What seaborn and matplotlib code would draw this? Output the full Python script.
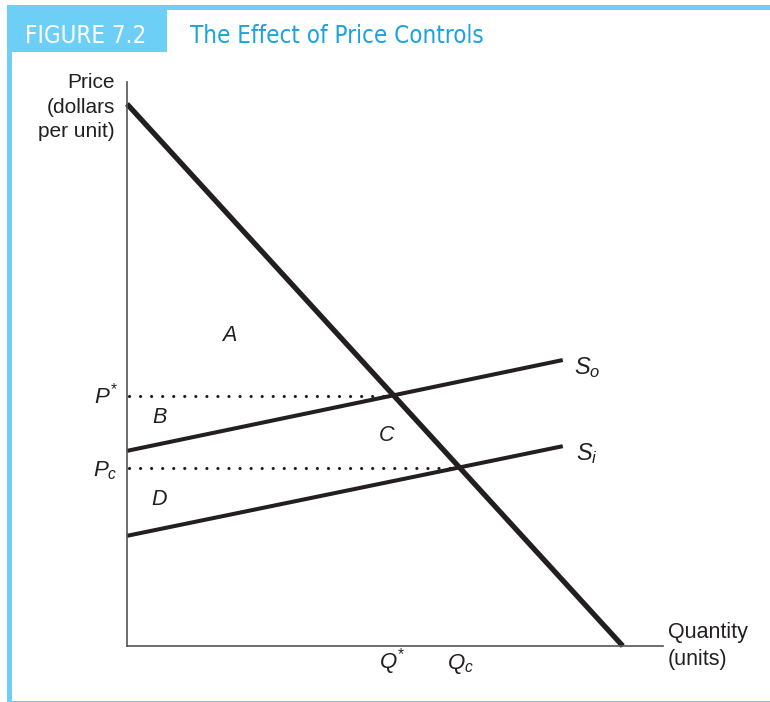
import matplotlib
matplotlib.use("Agg")
import matplotlib.pyplot as plt
import seaborn as sns
import pandas as pd
from matplotlib.patches import Rectangle
from matplotlib import font_manager
from matplotlib.font_manager import FontProperties

# ---- data (in arbitrary quantity / price units) ----
demand_q = [0.0, 9.25]
demand_p = [9.25, 0.0]
so_q = [0.0, 8.13]
so_p = [3.33, 4.88]
si_q = [0.0, 8.13]
si_p = [1.88, 3.41]
p_star, p_c = 4.27, 3.03
q_star, q_c = 4.95, 6.22
area_labels = ["A", "B", "C", "D"]
area_q = [1.9, 0.6, 4.85, 0.6]
area_p = [5.3, 3.9, 3.6, 2.5]
x_ticks = [q_star, q_c]
x_tick_labels = [r"$Q^{*}$", r"$Q_c$"]
y_ticks = [p_star, p_c]
y_tick_labels = [r"$P^{*}$", r"$P_c$"]

sns.set_style("white")
plt.rcParams["font.family"] = ["Liberation Sans", "DejaVu Sans"]
plt.rcParams["mathtext.fontset"] = "custom"
plt.rcParams["mathtext.it"] = "Liberation Sans:italic"
plt.rcParams["mathtext.rm"] = "Liberation Sans"
plt.rcParams["mathtext.default"] = "it"

W, H = 770, 702
fig = plt.figure(figsize=(W / 100, H / 100), dpi=100)
fig.patch.set_facecolor("white")

def fx(px):
    return px / W

def fy(py):
    return 1 - py / H

frame = "#6dcff6"
ink = "#231f20"
# top band, left band, bottom thin line
fig.add_artist(Rectangle((fx(7), fy(10)), fx(770 - 7), 5 / H, transform=fig.transFigure,
                         color=frame, lw=0))
fig.add_artist(Rectangle((fx(7), fy(701)), 5 / W, (701 - 5) / H, transform=fig.transFigure,
                         color=frame, lw=0))
fig.add_artist(Rectangle((fx(7), fy(702)), fx(770 - 7), 1.5 / H, transform=fig.transFigure,
                         color=frame, lw=0))
# header box
fig.add_artist(Rectangle((fx(12), fy(52)), fx(167 - 12), (52 - 10) / H, transform=fig.transFigure,
                         color=frame, lw=0))

# look for a condensed sans face for the header
cond = None
for f in font_manager.fontManager.ttflist:
    nm = f.name.lower()
    st = str(f.stretch).lower()
    if f.style == "normal" and f.weight in (400, "normal", "regular") and \
            ("condensed" in nm or "narrow" in nm or st in ("condensed", "semi-condensed")) \
            and "bold" not in f.fname.lower() and "oblique" not in f.fname.lower():
        cond = f.fname
        break
if cond:
    hprop = FontProperties(fname=cond, size=17.3)
else:
    hprop = FontProperties(family=["Liberation Sans", "DejaVu Sans"], size=17)

fig.text(fx(86), fy(36), "FIGURE 7.2", color="white", ha="center", va="center",
         fontproperties=hprop)
fig.text(fx(190), fy(36), "The Effect of Price Controls", color="#1ba3e1",
         ha="left", va="center", fontproperties=hprop)

# axes
x0, x1 = 127, 663
y0, y1 = 646, 82
ax = fig.add_axes([fx(x0), fy(y0), (x1 - x0) / W, (y0 - y1) / H])
ax.set_facecolor("none")
xmax = (x1 - x0) / 53.6
ymax = (y0 - y1) / 58.6
ax.set_xlim(0, xmax)
ax.set_ylim(0, ymax)

df_d = pd.DataFrame({"q": demand_q, "p": demand_p})
df_so = pd.DataFrame({"q": so_q, "p": so_p})
df_si = pd.DataFrame({"q": si_q, "p": si_p})

sns.lineplot(data=df_d, x="q", y="p", ax=ax, color=ink, lw=3.8, estimator=None,
             sort=False, solid_capstyle="butt", clip_on=False)
sns.lineplot(data=df_so, x="q", y="p", ax=ax, color=ink, lw=2.9, estimator=None,
             sort=False, solid_capstyle="butt", clip_on=False)
sns.lineplot(data=df_si, x="q", y="p", ax=ax, color=ink, lw=2.9, estimator=None,
             sort=False, solid_capstyle="butt", clip_on=False)

# dotted price lines
dot = dict(color=ink, lw=2.3, linestyle=(0, (0.01, 3.45)), dash_capstyle="round")
ax.plot([0.03, q_star - 0.1], [p_star, p_star], **dot)
ax.plot([0.03, q_c - 0.1], [p_c, p_c], **dot)

for side in ["top", "right"]:
    ax.spines[side].set_visible(False)
for side in ["left", "bottom"]:
    ax.spines[side].set_color("#555555")
    ax.spines[side].set_linewidth(1.2)

ax.set_xticks(x_ticks)
ax.set_xticklabels([])
ax.set_yticks(y_ticks)
ax.set_yticklabels([])
ax.tick_params(axis="x", direction="in", length=5, width=1, color="#555555")
ax.tick_params(axis="y", length=0)
ax.set_xlabel("")
ax.set_ylabel("")

# tick labels aligned on a common baseline
xt = ax.get_xaxis_transform()
for q, lab in zip(x_ticks, x_tick_labels):
    ax.text(q, -0.04, lab, transform=xt, fontsize=16, ha="center", va="baseline", color=ink)
for p, lab in zip(y_ticks, y_tick_labels):
    ax.text(-0.17, p - 0.13, lab, fontsize=16, ha="right", va="baseline", color=ink)

for lab, q, p in zip(area_labels, area_q, area_p):
    ax.text(q, p, lab, fontsize=15.5, style="italic", ha="center", va="center", color=ink)

ax.text(8.58, so_p[1] - 0.12, r"$S_o$", fontsize=17, ha="center", va="center", color=ink)
ax.text(8.58, si_p[1] - 0.12, r"$S_i$", fontsize=17, ha="center", va="center", color=ink)

fig.text(fx(115), fy(73), "Price\n(dollars\nper unit)", fontsize=15, ha="right", va="top",
         linespacing=1.37, color=ink)
fig.text(fx(668), fy(646), "Quantity\n(units)", fontsize=15.5, ha="left", va="center",
         linespacing=1.33, color=ink)

fig.savefig("out.png", dpi=100)
